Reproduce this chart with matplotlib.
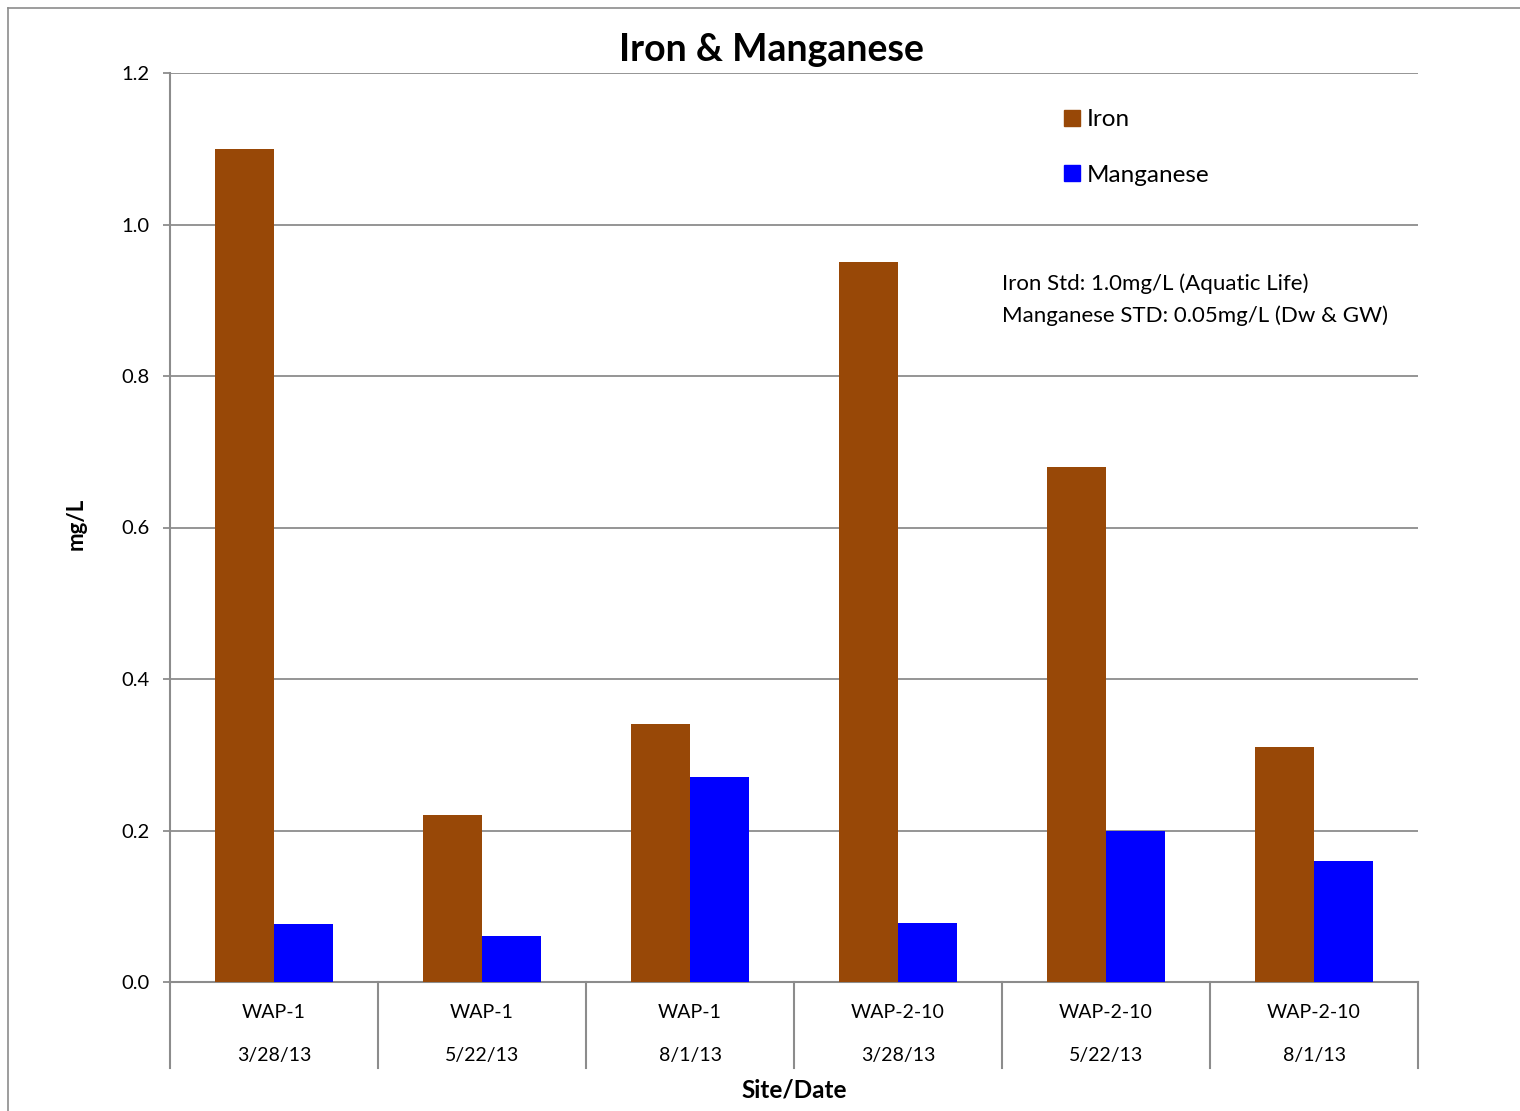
import matplotlib

matplotlib.use('Agg')
import matplotlib.pyplot as plt
from matplotlib.lines import Line2D
from matplotlib.patches import Patch
import numpy as np

plt.rcParams['font.family'] = ['Lato', 'DejaVu Sans']

# data
sites = ['WAP-1', 'WAP-1', 'WAP-1', 'WAP-2-10', 'WAP-2-10', 'WAP-2-10']
dates = ['3/28/13', '5/22/13', '8/1/13', '3/28/13', '5/22/13', '8/1/13']
iron = [1.10, 0.22, 0.34, 0.95, 0.68, 0.31]
manganese = [0.077, 0.061, 0.27, 0.078, 0.20, 0.16]
yticks = [0.0, 0.2, 0.4, 0.6, 0.8, 1.0, 1.2]

iron_color = '#984807'
mn_color = '#0000FF'
grid_color = '#8C8C8C'

W, H = 1520, 1111
fig = plt.figure(figsize=(W / 100, H / 100), dpi=100)
ax = fig.add_axes([170 / W, 1 - 982 / H, (1418 - 170) / W, (982 - 73) / H])

# outer chart border (left and top visible)
fig.add_artist(Line2D([8 / W, 8 / W], [0, 1 - 8 / H], color=grid_color, lw=1.2))
fig.add_artist(Line2D([8 / W, 1], [1 - 8 / H, 1 - 8 / H], color=grid_color, lw=1.2))

x = np.arange(len(iron))
bw = 0.285
ax.bar(x - bw / 2, iron, bw, color=iron_color, label='Iron', zorder=3)
ax.bar(x + bw / 2, manganese, bw, color=mn_color, label='Manganese', zorder=3)

ax.set_xlim(-0.5, len(iron) - 0.5)
ax.set_ylim(0, 1.2)
ax.set_yticks(yticks)
ax.set_yticklabels(['%.1f' % v for v in yticks], fontsize=14.5)
ax.tick_params(axis='y', length=5, width=1.3, color=grid_color, pad=10)
ax.tick_params(axis='x', bottom=False, labelbottom=False)
ax.yaxis.grid(True, color=grid_color, lw=1.3, zorder=0)

for s in ['top', 'right']:
    ax.spines[s].set_visible(False)
for s in ['left', 'bottom']:
    ax.spines[s].set_color(grid_color)
    ax.spines[s].set_linewidth(1.5)

# two-level category labels
for i in range(len(sites)):
    ax.text(i, -0.0341, sites[i], transform=ax.get_xaxis_transform(),
            ha='center', va='center', fontsize=14)
    ax.text(i, -0.0814, dates[i], transform=ax.get_xaxis_transform(),
            ha='center', va='center', fontsize=14)
for k in range(len(sites) + 1):
    ax.plot([k - 0.5, k - 0.5], [0, -0.0946], transform=ax.get_xaxis_transform(),
            color=grid_color, lw=1.5, clip_on=False)

fig.text(771 / W, 1 - 50 / H, 'Iron & Manganese', ha='center', va='center',
         fontsize=27, fontweight='bold')
fig.text(794 / W, 1 - 1090 / H, 'Site/Date', ha='center', va='center',
         fontsize=17.5, fontweight='bold')
fig.text(76 / W, 1 - 524 / H, 'mg/L', ha='center', va='center',
         fontsize=16, fontweight='bold', rotation=90)

handles = [Patch(color=iron_color), Patch(color=mn_color)]
fig.legend(handles, ['Iron', 'Manganese'], loc='upper left',
           bbox_to_anchor=(1052 / W, 1 - 97 / H), frameon=False, fontsize=17.5,
           handlelength=0.65, handleheight=0.65, handletextpad=0.3, labelspacing=1.42,
           borderpad=0)

fig.text(1002 / W, 1 - 284 / H, 'Iron Std: 1.0mg/L (Aquatic Life)',
         ha='left', va='center', fontsize=16)
fig.text(1002 / W, 1 - 316 / H, 'Manganese STD: 0.05mg/L (Dw & GW)',
         ha='left', va='center', fontsize=16)

plt.savefig('out.png', dpi=100, facecolor='w')
